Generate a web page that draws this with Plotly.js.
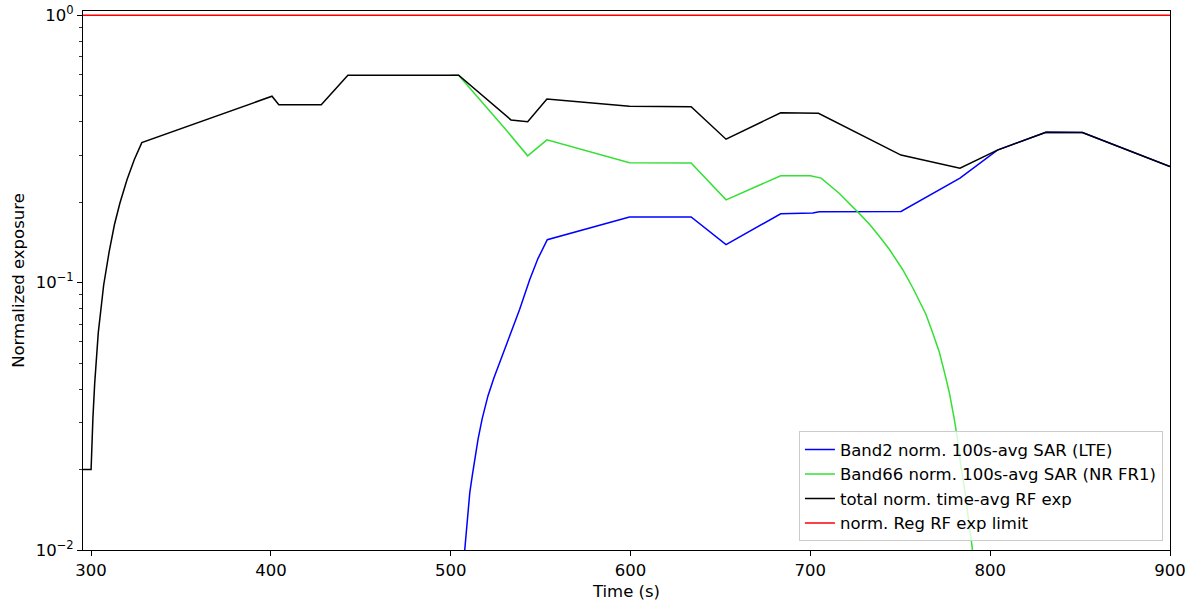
<!DOCTYPE html>
<html>
<head>
<meta charset="utf-8">
<script src="https://cdn.plot.ly/plotly-3.0.1.min.js"></script>
<style>html,body{margin:0;padding:0;background:#fff;}#chart{width:1191px;height:603px;}</style>
</head>
<body>
<div id="chart"></div>
<script>
// ---- data ----
const blueName = "Band2 norm. 100s-avg SAR (LTE)";
const greenName = "Band66 norm. 100s-avg SAR (NR FR1)";
const blackName = "total norm. time-avg RF exp";
const redName = "norm. Reg RF exp limit";

const totalTime = [295.5, 300, 301, 302, 304, 307, 310, 313, 316, 320, 324, 328.2, 400.6, 404.4, 428, 442.8, 504.4, 533.5, 542.8, 553.5, 599.4, 633.7, 653.1, 683.5, 704.5, 750.4, 783.2, 804, 831, 851.3, 900];
const totalVals = [0.02, 0.02, 0.031, 0.042, 0.065, 0.098, 0.13, 0.165, 0.198, 0.243, 0.288, 0.334, 0.498, 0.463, 0.463, 0.597, 0.597, 0.406, 0.400, 0.486, 0.457, 0.455, 0.344, 0.432, 0.430, 0.300, 0.268, 0.313, 0.365, 0.364, 0.272];

const greenTime = [500, 504.4, 530, 542.8, 553.5, 599.4, 633.7, 653.1, 683.5, 700, 706, 716, 727, 733, 738, 744, 751.3, 757, 761.5, 764.3, 768, 771.7, 775, 777.2, 780, 781.8, 784, 786, 788, 790, 792];
const greenVals = [0.597, 0.597, 0.378, 0.298, 0.342, 0.281, 0.280, 0.204, 0.251, 0.251, 0.246, 0.216, 0.182, 0.165, 0.150, 0.133, 0.112, 0.0955, 0.083, 0.076, 0.065, 0.055, 0.045, 0.039, 0.031, 0.026, 0.020, 0.0165, 0.013, 0.0105, 0.008];

const blueTime = [507.5, 509, 510.6, 512, 515.2, 517.5, 520.7, 524, 527.2, 530.5, 533.7, 538.3, 543.9, 548.5, 553.7, 599.4, 633.7, 653.1, 683.5, 701.3, 705, 750.4, 783.2, 801.3, 804, 831, 851.3, 900];
const blueVals = [0.0095, 0.0125, 0.0164, 0.019, 0.026, 0.031, 0.0377, 0.044, 0.0501, 0.057, 0.0649, 0.0793, 0.1026, 0.123, 0.1447, 0.176, 0.176, 0.1387, 0.181, 0.182, 0.184, 0.1845, 0.246, 0.305, 0.313, 0.365, 0.364, 0.272];

const limitTime = [295.5, 900];
const limitVals = [1, 1];

const xTicks = [300, 400, 500, 600, 700, 800, 900];
const yTicks = [0.01, 0.1, 1];
const yTickText = ["10<sup>−2</sup>", "10<sup>−1</sup>", "10<sup>0</sup>"];
const yMinor = [0.02,0.03,0.04,0.05,0.06,0.07,0.08,0.09,0.2,0.3,0.4,0.5,0.6,0.7,0.8,0.9];

const font = "DejaVu Sans, sans-serif";
const fs = 16.5;
const traces = [
  {x: blueTime, y: blueVals, name: blueName, mode: "lines", line: {color: "#0000ff", width: 1.5}},
  {x: greenTime, y: greenVals, name: greenName, mode: "lines", line: {color: "#33e033", width: 1.5}},
  {x: totalTime, y: totalVals, name: blackName, mode: "lines", line: {color: "#000000", width: 1.5}},
  {x: limitTime, y: limitVals, name: redName, mode: "lines", line: {color: "#ff0000", width: 1.5}}
];

const layout = {
  width: 1191, height: 603,
  margin: {l: 83, r: 21, t: 11, b: 53, pad: 0},
  paper_bgcolor: "#fff", plot_bgcolor: "#fff",
  font: {family: font, size: fs, color: "#000"},
  showlegend: true,
  legend: {
    x: 0.9935, y: 0.016, xanchor: "right", yanchor: "bottom",
    bgcolor: "rgba(255,255,255,0.8)", bordercolor: "#cccccc", borderwidth: 1,
    font: {family: font, size: fs, color: "#000"}
  },
  xaxis: {
    range: [295.5, 900], tickmode: "array", tickvals: xTicks,
    ticks: "outside", ticklen: 5, tickwidth: 1, tickcolor: "#000",
    showline: true, linecolor: "#000", linewidth: 1, mirror: true,
    showgrid: false, zeroline: false,
    tickfont: {family: font, size: fs},
    title: {text: "Time (s)", font: {family: font, size: fs}, standoff: 6}
  },
  yaxis: {
    type: "log", range: [-2, 0.016],
    tickmode: "array", tickvals: yTicks, ticktext: yTickText,
    ticks: "outside", ticklen: 5, tickwidth: 1, tickcolor: "#000",
    minor: {tickmode: "array", tickvals: yMinor, ticks: "outside", ticklen: 3, tickwidth: 0.8, tickcolor: "#000", showgrid: false},
    showline: true, linecolor: "#000", linewidth: 1, mirror: true,
    showgrid: false, zeroline: false,
    tickfont: {family: font, size: fs},
    title: {text: "Normalized exposure", font: {family: font, size: fs}, standoff: 6}
  }
};

Plotly.newPlot("chart", traces, layout, {displayModeBar: false, staticPlot: true});
</script>
</body>
</html>
